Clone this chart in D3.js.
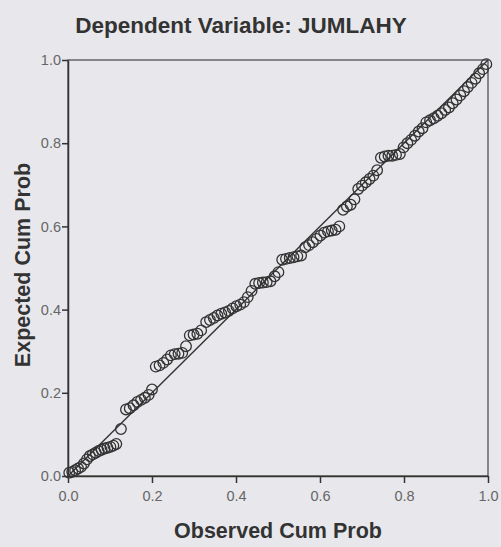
<!DOCTYPE html>
<html>
<head>
<meta charset="utf-8">
<script src="https://cdn.jsdelivr.net/npm/d3@7"></script>
<style>
  body { margin: 0; background: #e8e8ec; }
  text { font-family: "Liberation Sans", Arial, sans-serif; }
</style>
</head>
<body>
<div id="chart"></div>
<script>
// Observed vs expected cumulative probability
var observed = [0.003,0.010,0.017,0.024,0.031,0.038,0.045,0.052,0.059,0.066,0.073,0.080,0.087,0.094,0.101,0.108,0.115,
  0.126,
  0.138,0.147,0.156,0.165,0.174,0.183,0.192,0.200,
  0.209,0.218,0.227,0.236,0.245,0.254,0.263,0.272,0.281,
  0.290,0.299,0.308,0.317,
  0.329,0.338,0.347,0.356,0.365,0.374,0.383,0.392,0.401,0.410,0.419,
  0.428,0.437,0.446,0.455,0.464,0.473,0.482,
  0.492,0.501,0.510,0.519,0.528,0.537,0.546,0.555,
  0.565,0.574,0.583,0.592,0.601,0.610,0.619,0.628,0.637,0.646,
  0.655,0.664,0.673,0.682,
  0.691,0.700,0.709,0.718,0.727,0.736,
  0.745,0.754,0.763,0.772,0.781,0.790,
  0.799,0.808,0.817,0.826,0.835,0.844,
  0.853,0.862,0.871,0.880,0.889,0.898,0.907,
  0.916,0.925,0.934,0.943,0.952,0.961,0.970,0.979,0.988,0.996];
var expected = [0.008,0.010,0.014,0.018,0.022,0.030,0.040,0.048,0.052,0.056,0.060,0.063,0.066,0.068,0.070,0.073,0.077,
  0.113,
  0.160,0.163,0.170,0.178,0.183,0.188,0.195,0.208,
  0.263,0.266,0.272,0.280,0.290,0.293,0.294,0.296,0.312,
  0.338,0.340,0.342,0.350,
  0.370,0.375,0.380,0.386,0.390,0.393,0.397,0.403,0.408,0.412,0.418,
  0.430,0.445,0.462,0.464,0.465,0.466,0.468,
  0.480,0.490,0.520,0.522,0.524,0.526,0.528,0.530,
  0.550,0.555,0.562,0.570,0.578,0.585,0.588,0.590,0.592,0.600,
  0.640,0.648,0.652,0.665,
  0.690,0.698,0.706,0.714,0.722,0.735,
  0.765,0.768,0.770,0.770,0.772,0.774,
  0.790,0.800,0.808,0.818,0.828,0.836,
  0.850,0.855,0.860,0.866,0.872,0.880,0.886,
  0.896,0.905,0.915,0.925,0.935,0.945,0.955,0.968,0.978,0.990];
var tickValues = [0, 0.2, 0.4, 0.6, 0.8, 1.0];

var svgWidth = 501, svgHeight = 547;
var margin = { top: 60, right: 13, bottom: 71, left: 68 };
var width = svgWidth - margin.left - margin.right;
var height = svgHeight - margin.top - margin.bottom;

var svg = d3.select("#chart").append("svg")
  .attr("width", svgWidth)
  .attr("height", svgHeight);

var chartGroup = svg.append("g")
  .attr("transform", `translate(${margin.left}, ${margin.top})`);

var x = d3.scaleLinear().domain([0, 1]).range([0, width]);
var y = d3.scaleLinear().domain([0, 1]).range([height, 0]);

// frame
chartGroup.append("rect")
  .attr("width", width).attr("height", height)
  .attr("fill", "none").attr("stroke", "#444").attr("stroke-width", 1.2);

var bottomAxis = d3.axisBottom(x).tickValues(tickValues).tickFormat(d3.format(".1f")).tickSize(7).tickSizeOuter(0);
var leftAxis = d3.axisLeft(y).tickValues(tickValues).tickFormat(d3.format(".1f")).tickSize(6).tickSizeOuter(0);

var gx = chartGroup.append("g")
  .attr("transform", `translate(0, ${height})`)
  .call(bottomAxis);
var gy = chartGroup.append("g").call(leftAxis);

[gx, gy].forEach(function(g) {
  g.selectAll("path, line").attr("stroke", "#333").attr("stroke-width", 1.5);
  g.selectAll("text").attr("fill", "#666").attr("font-size", 14.5)
    .attr("font-family", "'Liberation Sans', Arial, sans-serif");
});
gx.selectAll("text").attr("dy", "1.0em");
gy.selectAll("text").attr("dx", "2px");

// reference diagonal
chartGroup.append("line")
  .attr("x1", x(0)).attr("y1", y(0))
  .attr("x2", x(1)).attr("y2", y(1))
  .attr("stroke", "#333").attr("stroke-width", 1.4);

// points
chartGroup.selectAll("circle")
  .data(observed)
  .enter()
  .append("circle")
  .attr("cx", (d, i) => x(d))
  .attr("cy", (d, i) => y(expected[i]))
  .attr("r", 5.3)
  .attr("fill", "none")
  .attr("stroke", "#333")
  .attr("stroke-width", 1.3);

// titles
svg.append("text")
  .attr("x", 241).attr("y", 33)
  .attr("text-anchor", "middle")
  .attr("font-size", 22.5).attr("font-weight", "bold").attr("fill", "#333")
  .text("Dependent Variable: JUMLAHY");

svg.append("text")
  .attr("x", 278).attr("y", 538)
  .attr("text-anchor", "middle")
  .attr("font-size", 21.5).attr("font-weight", "bold").attr("fill", "#333")
  .text("Observed Cum Prob");

svg.append("text")
  .attr("transform", "translate(30, 265) rotate(-90)")
  .attr("text-anchor", "middle")
  .attr("font-size", 21.5).attr("font-weight", "bold").attr("fill", "#333")
  .text("Expected Cum Prob");
</script>
</body>
</html>
